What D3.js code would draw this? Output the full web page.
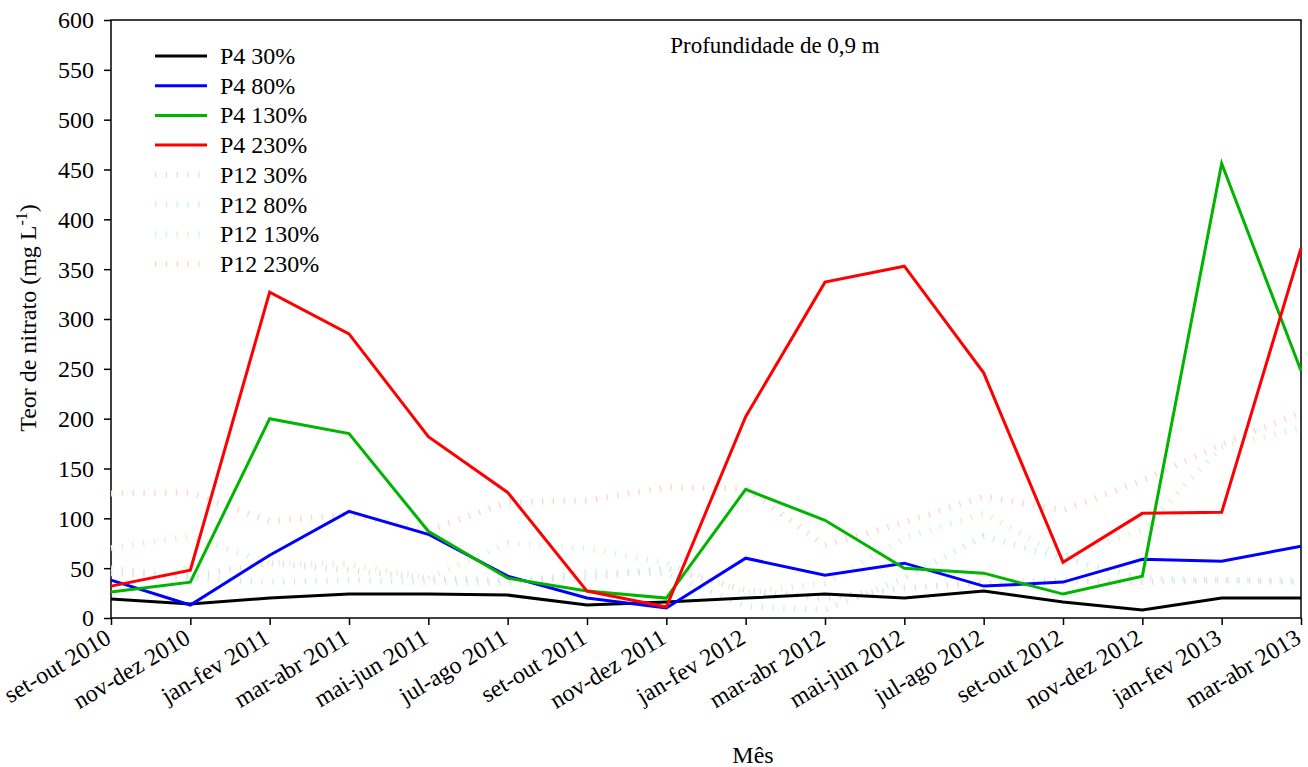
<!DOCTYPE html>
<html><head><meta charset="utf-8">
<script src="https://cdn.jsdelivr.net/npm/d3@7"></script>
<style>
body{margin:0;background:#fff;}
svg text{font-family:"Liberation Serif","Times New Roman",serif !important;fill:#000;}
</style></head>
<body><svg id="c" width="1308" height="767"></svg>
<script>
const months = ["set-out 2010","nov-dez 2010","jan-fev 2011","mar-abr 2011","mai-jun 2011","jul-ago 2011","set-out 2011","nov-dez 2011","jan-fev 2012","mar-abr 2012","mai-jun 2012","jul-ago 2012","set-out 2012","nov-dez 2012","jan-fev 2013","mar-abr 2013"];
const yTicks = [0,50,100,150,200,250,300,350,400,450,500,550,600];

const p4_30  = [19, 14, 20, 24, 24, 23, 13, 16, 20, 24, 20, 27, 16, 8, 20, 20];
const p4_80  = [38, 13, 63, 107, 84, 42, 20, 10, 60, 43, 55, 32, 36, 59, 57, 72];
const p4_130 = [26, 36, 200, 185, 87, 40, 27, 20, 129, 98, 50, 45, 24, 42, 456, 248];
const p4_230 = [32, 48, 327, 285, 182, 126, 27, 11, 202, 337, 353, 246, 56, 105, 106, 371];
const p12_30  = [45, 42, 55, 48, 40, 38, 40, 50, 28, 20, 30, 35, 38, 36, 38, 36];
const p12_80  = [50, 40, 36, 38, 36, 35, 46, 45, 12, 8, 40, 82, 60, 40, 38, 38];
const p12_130 = [70, 82, 55, 54, 40, 75, 70, 55, 25, 35, 80, 105, 62, 88, 172, 190];
const p12_230 = [125, 126, 97, 104, 88, 116, 118, 131, 130, 73, 96, 122, 108, 138, 174, 206];

const seriesNames = ["P4 30%","P4 80%","P4 130%","P4 230%","P12 30%","P12 80%","P12 130%","P12 230%"];
const seriesData = [p4_30,p4_80,p4_130,p4_230,p12_30,p12_80,p12_130,p12_230];
const seriesColors = ["#000000","#0000ff","#00b400","#ff0000","#e8dcdc","#c8f2e8","#d6f6d6","#ffd4c6"];
const seriesDashed = [false,false,false,false,true,true,true,true];

const FS = "24px";
const FF = "'Liberation Serif','Times New Roman',serif";

const svg = d3.select("#c");
const L=111,R=1301,T=20,B=618;
const x = d3.scalePoint().domain(months).range([L,R]);
const y = d3.scaleLinear().domain([0,600]).range([B,T]);

// frame
svg.append("rect").attr("x",L).attr("y",T).attr("width",R-L).attr("height",B-T)
  .attr("fill","none").attr("stroke","#000").attr("stroke-width",1.5);

const line = d3.line().x((d,i)=>x(months[i])).y(d=>y(d));

seriesData.forEach((d,k)=>{
  if(!seriesDashed[k]) return;
  svg.append("path").datum(d).attr("d",line).attr("fill","none")
    .attr("stroke",seriesColors[k]).attr("stroke-width",6).attr("stroke-dasharray","1.3 9.5");
});
[0,1,2,3].forEach(k=>{
  svg.append("path").datum(seriesData[k]).attr("d",line).attr("fill","none")
    .attr("stroke",seriesColors[k]).attr("stroke-width",3).attr("stroke-linejoin","miter");
});

// axes
const yAxis = d3.axisLeft(y).tickValues(yTicks).tickSize(7).tickPadding(10);
const gy = svg.append("g").attr("transform",`translate(${L},0)`).call(yAxis);
gy.attr("font-family",FF).attr("font-size",24);
gy.select(".domain").remove();
gy.selectAll("line").attr("stroke","#000").attr("stroke-width",1.5);
gy.selectAll("text").style("font-size",FS).style("font-family",FF).attr("dy","0.33em");

const xAxis = d3.axisBottom(x).tickSize(7);
const gx = svg.append("g").attr("transform",`translate(0,${B})`).call(xAxis);
gx.attr("font-family",FF).attr("font-size",24);
gx.select(".domain").remove();
gx.selectAll("line").attr("stroke","#000").attr("stroke-width",1.5);
gx.selectAll("text").style("font-size",FS).style("font-family",FF)
  .attr("text-anchor","end").attr("dy","0").attr("y",0).attr("x",0)
  .attr("transform","translate(1,24) rotate(-31)");

// titles
svg.append("text").attr("x",753).attr("y",763).attr("text-anchor","middle")
  .style("font-size",FS).style("font-family",FF).text("Mês");
const yt = svg.append("text").attr("transform","translate(36,318) rotate(-90)")
  .attr("text-anchor","middle").style("font-size",FS).style("font-family",FF);
yt.append("tspan").text("Teor de nitrato (mg L");
yt.append("tspan").attr("dy",-9).style("font-size","16px").text("-1");
yt.append("tspan").attr("dy",9).text(")");

svg.append("text").attr("x",775).attr("y",53).attr("text-anchor","middle")
  .style("font-size","23px").style("font-family",FF).text("Profundidade de 0,9 m");

// legend
const lg = svg.append("g");
seriesNames.forEach((n,k)=>{
  const yy = 56 + k*29.7;
  lg.append("line").attr("x1",155).attr("x2",207).attr("y1",yy).attr("y2",yy)
    .attr("stroke",seriesColors[k]).attr("stroke-width",seriesDashed[k]?6:3)
    .attr("stroke-dasharray",seriesDashed[k]?"1.3 9.5":null);
  lg.append("text").attr("x",220).attr("y",yy+8).style("font-size",FS).style("font-family",FF).text(n);
});
</script></body></html>
